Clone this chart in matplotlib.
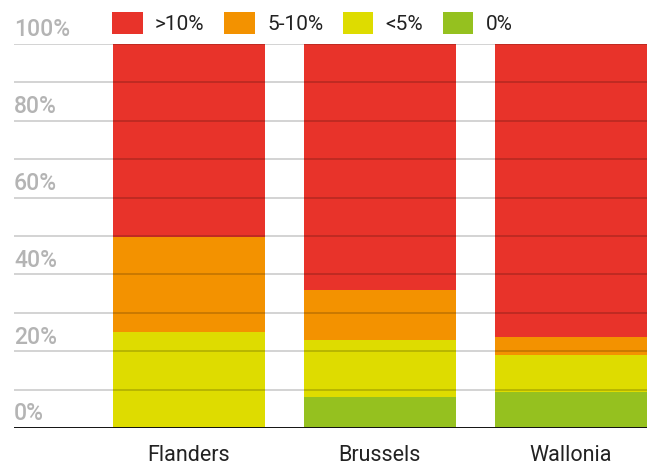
import matplotlib.pyplot as plt
import numpy as np
from matplotlib.transforms import blended_transform_factory

plt.rcParams['font.family'] = ['Roboto', 'DejaVu Sans']

# data, shares in % (bottom to top)
regions = ['Flanders', 'Brussels', 'Wallonia']
labels = ['>10%', '5-10%', '<5%', '0%']
zero = [0, 8.2, 9.5]
below5 = [25.0, 14.7, 9.6]
mid = [24.8, 13.0, 4.6]
above10 = [50.2, 64.1, 76.3]
colors = ['#e8332a', '#f39200', '#dedc00', '#95c11f']
ytick_vals = [0, 20, 40, 60, 80, 100]

fig = plt.figure(figsize=(6.5, 4.66), dpi=100)
ax = fig.add_axes([14/650, 1-428/466, (647-14)/650, (428-44)/466])

x = np.arange(len(regions))
bottom = np.zeros(len(regions))
stack = [zero, below5, mid, above10]
stack_colors = colors[::-1]
stack_labels = labels[::-1]
handles = {}
for vals, col, lab in zip(stack, stack_colors, stack_labels):
    b = ax.bar(x, vals, width=0.796, bottom=bottom, color=col, label=lab, zorder=1)
    handles[lab] = b
    bottom += np.array(vals)

ax.set_xlim(-0.916, 2.4)
ax.set_ylim(0, 100)

# gridlines over bars
for g in range(10, 101, 10):
    ax.axhline(g, color='black', alpha=0.22, lw=1.1, zorder=3)
ax.axhline(0, color='#111111', lw=1.4, zorder=4)

for s in ax.spines.values():
    s.set_visible(False)
ax.set_yticks([])
ax.set_xticks(x)
ax.set_xticklabels(regions, fontsize=15.5, color='#222222')
ax.tick_params(axis='x', length=0, pad=12)

tr = blended_transform_factory(ax.transAxes, ax.transData)
for v in ytick_vals:
    ax.text(0, v + 0.7, f'{v}%', transform=tr, ha='left', va='bottom',
            fontsize=16.5, color='#b4b4b4', fontweight='medium')

leg = ax.legend([handles[l] for l in labels], labels, ncol=4, frameon=False,
                loc='lower left', bbox_to_anchor=(88/633, 1.0), borderaxespad=0.1,
                fontsize=15, handlelength=1.45, handleheight=1.25,
                handletextpad=0.6, columnspacing=0.95, labelcolor='#222222')

fig.savefig('out.png', dpi=100)
